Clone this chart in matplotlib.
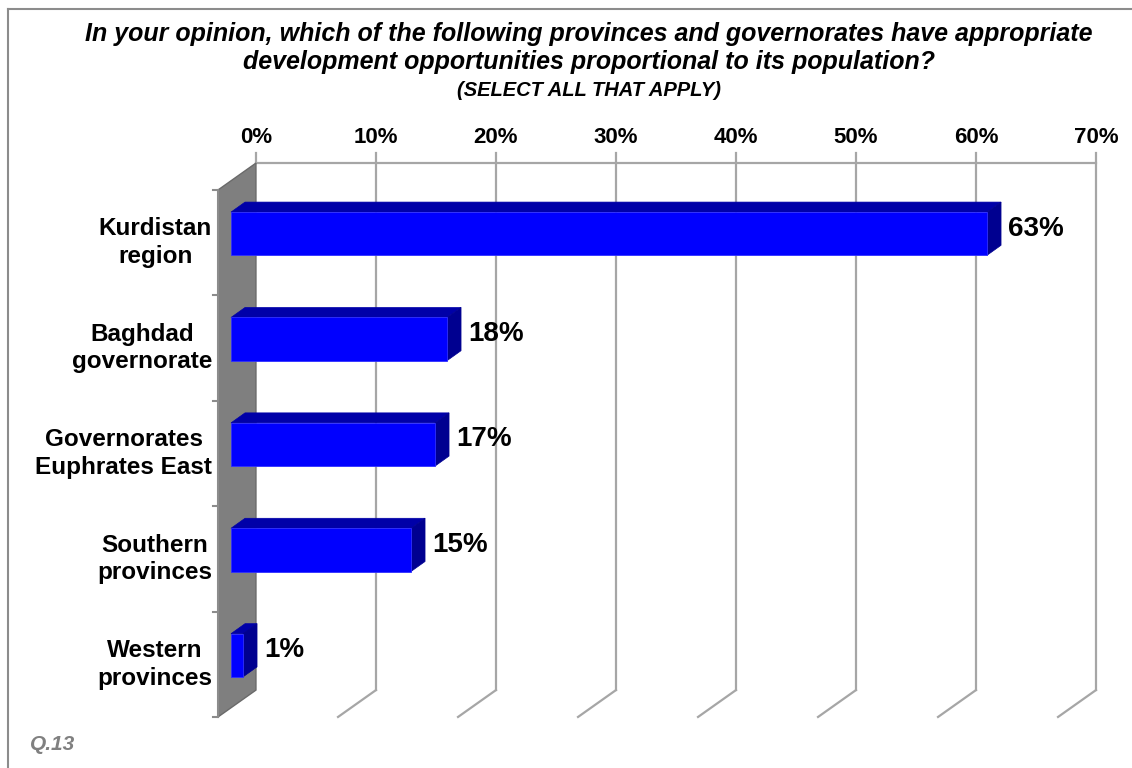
import matplotlib.pyplot as plt
from matplotlib.lines import Line2D
from matplotlib.patches import Polygon

plt.rcParams['font.family'] = ['Liberation Sans', 'DejaVu Sans']

categories = ['Kurdistan\nregion', 'Baghdad\ngovernorate', 'Governorates\nEuphrates East',
              'Southern\nprovinces', 'Western\nprovinces']
values = [63, 18, 17, 15, 1]
ticks = [0, 10, 20, 30, 40, 50, 60, 70]
tick_labels = ['0%', '10%', '20%', '30%', '40%', '50%', '60%', '70%']

title = ('In your opinion, which of the following provinces and governorates have appropriate\n'
         'development opportunities proportional to its population?')
subtitle = '(SELECT ALL THAT APPLY)'

# fake 3-D: offsets (in data units) from the bar plane to the back wall / front edge
back_dx, back_dy = 2.08, -0.17
front_dx, front_dy = -1.08, 0.085
bar_dx, bar_dy = 1.17, -0.095
bar_h = 0.41

front_col = '#0000FF'
top_col = '#0000A8'
side_col = '#000090'
grid_col = '#A6A6A6'
wall_col = '#7F7F7F'

fig = plt.figure(figsize=(11.32, 7.68), dpi=100)
ax = fig.add_axes([231 / 1132, 60 / 768, 840 / 1132, 527 / 768])
ax.set_xlim(0, 70)
ax.set_ylim(4.5, -0.5)
ax.axis('off')

y_top = -0.5 + back_dy
y_bot = 4.5 + back_dy

# side wall
wall = Polygon([(back_dx, y_top), (back_dx, y_bot), (front_dx, 4.5 + front_dy), (front_dx, -0.5 + front_dy)],
               closed=True, facecolor=wall_col, edgecolor='#6A6A6A', lw=1, clip_on=False, zorder=1)
ax.add_patch(wall)

# grid lines on the back wall and the floor
for t, lab in zip(ticks, tick_labels):
    x = t + back_dx
    if t > 0:
        ax.plot([x, x], [y_top - 0.095, y_bot], color=grid_col, lw=1.6, clip_on=False, zorder=0.5)
        ax.plot([x, t + front_dx], [y_bot, 4.5 + front_dy], color=grid_col, lw=1.6, clip_on=False, zorder=0.5)
    else:
        ax.plot([x, x], [y_top - 0.095, y_top], color=grid_col, lw=1.6, clip_on=False, zorder=0.5)
    ax.text(x, y_top - 0.24, lab, ha='center', va='center', fontsize=16, fontweight='bold')
ax.plot([back_dx, ticks[-1] + back_dx], [y_top, y_top], color=grid_col, lw=1.6, clip_on=False, zorder=0.5)

# front edge of the wall with category ticks
ax.plot([front_dx, front_dx], [-0.5 + front_dy, 4.5 + front_dy], color='#8C8C8C', lw=1.5, clip_on=False, zorder=1.2)
for k in range(len(categories) + 1):
    yk = k - 0.5 + front_dy
    ax.plot([front_dx - 0.45, front_dx], [yk, yk], color='#8C8C8C', lw=1.5, clip_on=False, zorder=1.2)

# bars
ypos = list(range(len(categories)))
ax.barh(ypos, values, height=bar_h, color=front_col, edgecolor='#3030FF', lw=0.6, zorder=3)
for i, v in zip(ypos, values):
    y0 = i - bar_h / 2
    y1 = i + bar_h / 2
    top = Polygon([(0, y0), (v, y0), (v + bar_dx, y0 + bar_dy), (bar_dx, y0 + bar_dy)],
                  closed=True, facecolor=top_col, edgecolor=top_col, lw=0.5, zorder=2.5, clip_on=False)
    side = Polygon([(v, y0), (v, y1), (v + bar_dx, y1 + bar_dy), (v + bar_dx, y0 + bar_dy)],
                   closed=True, facecolor=side_col, edgecolor=side_col, lw=0.5, zorder=2.6, clip_on=False)
    ax.add_patch(top)
    ax.add_patch(side)
    ax.text(v + bar_dx + 0.6, i + bar_dy / 2, f'{v}%', ha='left', va='center',
            fontsize=20, fontweight='bold', clip_on=False)

for i, lab in zip(ypos, categories):
    ax.text(-1.58, i + front_dy, lab, ha='right', va='center', multialignment='center',
            fontsize=17.5, fontweight='bold', linespacing=1.26)

# titles
fig.text(589 / 1132, 1 - 48 / 768, title, ha='center', va='center', fontsize=18,
         fontweight='bold', fontstyle='italic', linespacing=1.26)
fig.text(589 / 1132, 1 - 90 / 768, subtitle, ha='center', va='center', fontsize=14.5,
         fontweight='bold', fontstyle='italic')
fig.text(30 / 1132, 1 - 744 / 768, 'Q.13', ha='left', va='center', fontsize=15,
         fontweight='bold', fontstyle='italic', color='#808080')

# outer frame (only top and left edges fall inside the image)
fig.add_artist(Line2D([8 / 1132, 1], [1 - 9 / 768, 1 - 9 / 768], transform=fig.transFigure,
                      color='#8C8C8C', lw=1.5))
fig.add_artist(Line2D([8 / 1132, 8 / 1132], [1 - 9 / 768, 0], transform=fig.transFigure,
                      color='#8C8C8C', lw=1.5))

fig.savefig('out.png', dpi=100)
